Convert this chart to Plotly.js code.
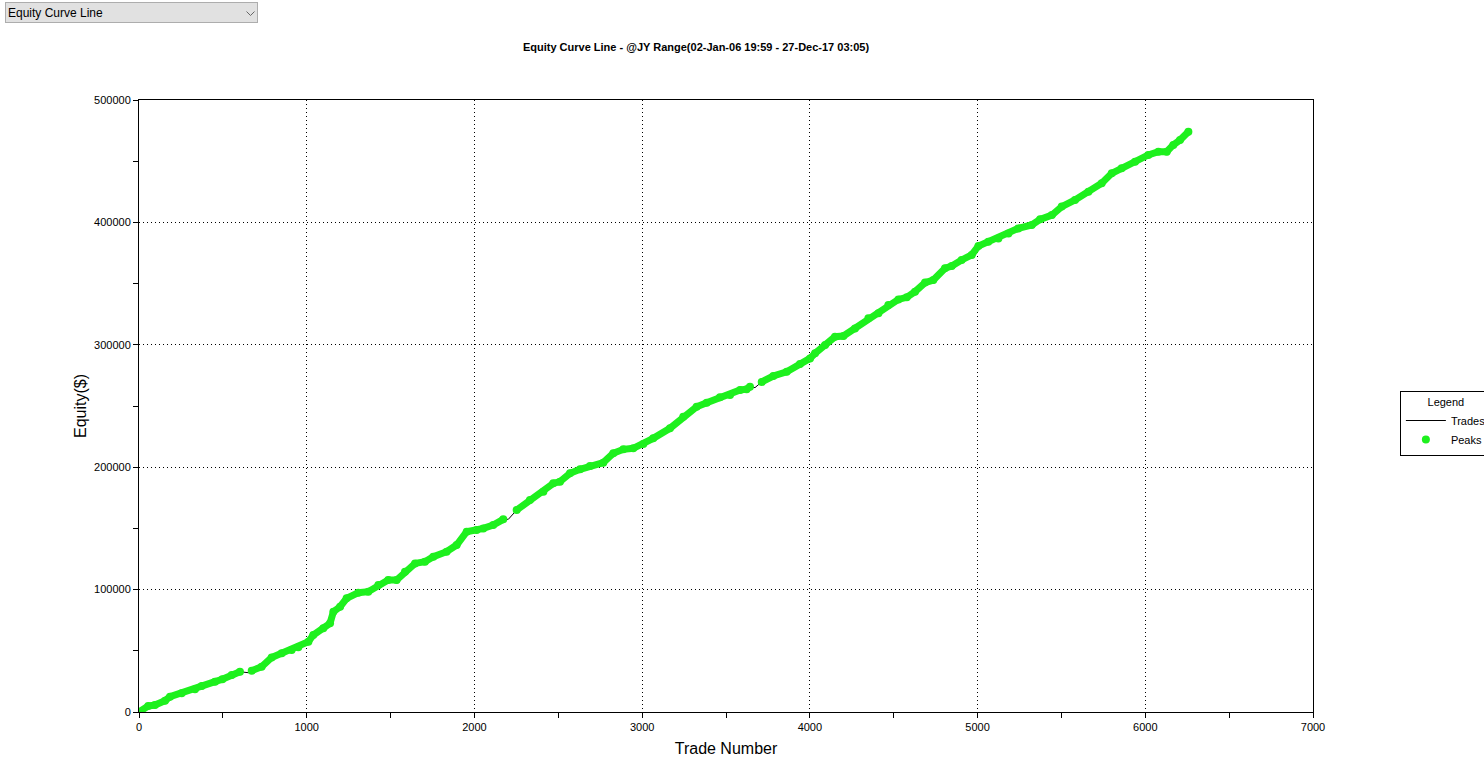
<!DOCTYPE html>
<html>
<head>
<meta charset="utf-8">
<script src="https://cdn.plot.ly/plotly-3.0.1.min.js"></script>
<style>
  body { margin: 0; background: #fff; }
  #chart { width: 1484px; height: 779px; }
  #picker {
    position: absolute; left: 5px; top: 2px; width: 253px; height: 21px; z-index: 10;
    font-family: "Liberation Sans", Arial, sans-serif; font-size: 12px;
    background: #e1e1e1; border: 1px solid #adadad; padding: 0 2px; color: #000;
    -webkit-appearance: none; appearance: none; border-radius: 0;
    background-image: url("data:image/svg+xml;utf8,<svg xmlns='http://www.w3.org/2000/svg' width='9' height='5'><path d='M0.5 0.5 L4.5 4.5 L8.5 0.5' fill='none' stroke='%23666' stroke-width='1'/></svg>");
    background-repeat: no-repeat; background-position: 240px 8px;
  }
</style>
</head>
<body>
<select id="picker"><option>Equity Curve Line</option></select>
<div id="chart"></div>
<script>
"use strict";
// trade number / equity
const tradeNo = [0,55,95,155,185,254,334,374,453,497,553,602,652,672,731,791,851,910,950,1010,
  1039,1099,1139,1159,1199,1238,1308,1367,1427,1486,1536,1586,1646,1705,1755,1834,1894,1954,2013,
  2053,2112,2172,2202,2252,2331,2411,2470,2510,2570,2630,2689,2768,2828,2888,2947,3007,3066,3166,
  3245,3325,3385,3464,3524,3584,3623,3643,3673,3713,3782,3862,3941,4001,4031,4091,4150,4200,4269,
  4349,4409,4468,4528,4578,4627,4687,4736,4806,4846,4905,4965,5005,5064,5124,5184,5243,5323,5373,
  5443,5502,5581,5661,5740,5800,5859,5939,6018,6078,6128,6167,6207,6257];
const equity = [0,4900,5700,9200,12500,15300,18500,21200,24800,26700,30200,32900,32100,33800,37000,
  44600,47900,50600,52800,57400,62900,68400,72500,81900,86000,92900,97500,98300,103800,107800,107800,
  114600,121400,122800,126900,131000,136400,147300,148700,150000,152800,157400,157400,165000,173200,
  180000,186800,188200,195000,198300,201000,203700,211400,214600,215400,219000,223600,231800,241300,
  249400,252700,257100,259000,263100,263700,265800,265000,269700,274500,278000,284300,288900,293000,
  299800,306600,307200,313400,321600,325700,332500,337100,338800,343400,350800,352900,362500,364400,
  369300,373400,380700,384200,386900,391000,395100,397900,402500,406000,412900,418300,425100,432000,
  440100,444200,449600,455100,457800,457800,463300,467300,474100];
// trades that did not make a new equity high
const notPeak = [652, 2202, 3673];
const peaks = equity.map((v, i) => notPeak.includes(tradeNo[i]) ? null : v);

const green = '#1ef01e';
const data = [
  { x: tradeNo, y: equity, name: 'Trades', mode: 'lines',
    line: { color: '#000', width: 1 } },
  { x: tradeNo, y: peaks, name: 'band', mode: 'lines', showlegend: false,
    connectgaps: false, line: { color: green, width: 7 }, hoverinfo: 'skip' },
  { x: tradeNo, y: peaks, name: 'Peaks', mode: 'markers',
    marker: { color: green, size: 8 } }
];

const fam = 'Liberation Sans, Arial, sans-serif';
const axisFont = { family: fam, size: 11, color: '#000' };
const gridDash = '1px,3px';
const layout = {
  width: 1484, height: 779, autosize: false,
  paper_bgcolor: '#fff', plot_bgcolor: '#fff',
  margin: { l: 139, r: 171, t: 100, b: 67, autoexpand: false },
  title: {
    text: '<b>Equity Curve Line - @JY Range(02-Jan-06 19:59 - 27-Dec-17 03:05)</b>',
    font: { family: fam, size: 11, color: '#000' },
    x: 0.469, xref: 'container', xanchor: 'center', y: 0.94, yref: 'container', yanchor: 'middle'
  },
  xaxis: {
    range: [0, 7000], dtick: 1000, tick0: 0, showline: true, mirror: true,
    linecolor: '#000', linewidth: 1, ticks: 'outside', ticklen: 5, tickcolor: '#000',
    minor: { dtick: 500, ticks: 'outside', ticklen: 5, tickcolor: '#000', showgrid: false },
    showgrid: true, gridcolor: '#000', griddash: gridDash, gridwidth: 1, zeroline: false,
    tickfont: axisFont,
    title: { text: 'Trade Number', font: { family: fam, size: 16, color: '#000' }, standoff: 10 }
  },
  yaxis: {
    range: [0, 500000], dtick: 100000, tick0: 0, showline: true, mirror: true,
    linecolor: '#000', linewidth: 1, ticks: 'outside', ticklen: 5, tickcolor: '#000',
    minor: { dtick: 50000, ticks: 'outside', ticklen: 5, tickcolor: '#000', showgrid: false },
    showgrid: true, gridcolor: '#000', griddash: gridDash, gridwidth: 1, zeroline: false,
    tickformat: 'd', tickfont: axisFont,
    title: { text: 'Equity($)', font: { family: fam, size: 16, color: '#000' }, standoff: 3 }
  },
  legend: {
    x: 1.074, xanchor: 'left', y: 0.525, yanchor: 'top',
    bordercolor: '#000', borderwidth: 1, bgcolor: '#fff',
    font: { family: fam, size: 11, color: '#000' },
    title: { text: 'Legend', side: 'top center', font: { family: fam, size: 11 } },
    tracegroupgap: 0, itemwidth: 40
  },
  showlegend: true
};

Plotly.newPlot('chart', data, layout, { displayModeBar: false, staticPlot: true });
</script>
</body>
</html>
